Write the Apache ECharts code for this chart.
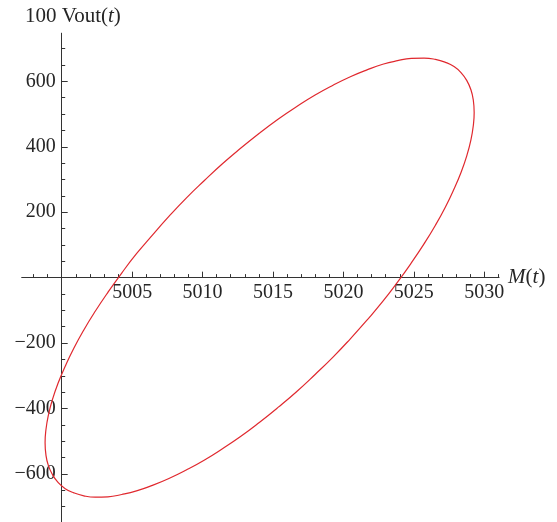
<!DOCTYPE html>
<html>
<head>
<meta charset="utf-8">
<script src="https://cdn.jsdelivr.net/npm/echarts@6/dist/echarts.min.js"></script>
<style>
html,body{margin:0;padding:0;background:#fff;}
#chart{width:557px;height:522px;}
</style>
</head>
<body>
<div id="chart"></div>
<script>
// Closed parametric curve: M(t) (x) and 100 Vout(t) (y)
const curveM = [
  5014.05, 5012.72, 5011.41, 5010.11, 5008.84, 5007.61, 5006.44, 5005.31,
  5004.26, 5003.28, 5002.38, 5001.57, 5000.86, 5000.25, 4999.74, 4999.34,
  4999.05, 4998.88, 4998.82, 4998.88, 4999.05, 4999.34, 4999.74, 5000.25,
  5000.86, 5001.57, 5002.38, 5003.28, 5004.26, 5005.31, 5006.44, 5007.61,
  5008.84, 5010.11, 5011.41, 5012.72, 5014.05, 5015.38, 5016.69, 5017.99,
  5019.26, 5020.49, 5021.67, 5022.79, 5023.84, 5024.82, 5025.72, 5026.53,
  5027.24, 5027.85, 5028.36, 5028.76, 5029.05, 5029.22, 5029.28, 5029.22,
  5029.05, 5028.76, 5028.36, 5027.85, 5027.24, 5026.53, 5025.72, 5024.82,
  5023.84, 5022.79, 5021.67, 5020.49, 5019.26, 5017.99, 5016.69, 5015.38,
  5014.05
];
const curveV = [
  442, 396, 348, 296, 243, 187, 130, 73,
  14, -45, -103, -160, -216, -271, -323, -373,
  -421, -465, -505, -542, -574, -602, -626, -645,
  -658, -667, -671, -670, -663, -652, -635, -614,
  -588, -558, -523, -485, -442, -396, -348, -296,
  -243, -187, -130, -73, -14, 45, 103, 160,
  216, 271, 323, 373, 421, 465, 505, 542,
  574, 602, 626, 645, 658, 667, 671, 670,
  663, 652, 635, 614, 588, 558, 523, 485,
  442
];
// Axis ticks
const xTickValues = [5000, 5005, 5010, 5015, 5020, 5025, 5030];
const yTickValues = [-600, -400, -200, 0, 200, 400, 600];
const xRange = [4997.16, 5031.05];
const yRange = [-747, 747];

const FONT = '"Liberation Serif", "DejaVu Serif", serif';
const TXT = '#262626';
const AX = '#333333';
const LABEL_SIZE = 20;
const NAME_SIZE = 21;

const curveData = curveM.map((m, i) => [m, curveV[i]]);
const xStep = xTickValues[1] - xTickValues[0];
const yStep = yTickValues[1] - yTickValues[0];

const hiddenAxis = (gi) => ({ type: 'value', gridIndex: gi, show: false, min: 0, max: 1,
  axisLine: { onZero: false }, splitLine: { show: false } });

const chart = echarts.init(document.getElementById('chart'), null, {renderer: 'canvas'});
chart.setOption({
  animation: false,
  backgroundColor: '#ffffff',
  title: {
    text: '100 Vout({i|t})',
    left: 25, top: 6, padding: 0,
    textStyle: {
      fontFamily: FONT, fontSize: NAME_SIZE, fontWeight: 'normal', color: TXT,
      rich: { i: { fontFamily: FONT, fontSize: NAME_SIZE, fontStyle: 'italic', color: TXT } }
    }
  },
  grid: [
    // plot area (curve, axis lines, minor ticks)
    { left: 21.7, top: 33.2, width: 477.4, height: 488.9 },
    // major x ticks + labels: bottom edge on the y = 0 line
    { left: 61.7, top: 177.65, width: 422.6, height: 100 },
    // major y ticks + labels: left edge on the M = 5000 line
    { left: 61.7, top: 81.3, width: 100, height: 392.7 }
  ],
  xAxis: [
    {
      type: 'value', gridIndex: 0, min: xRange[0], max: xRange[1],
      minInterval: xStep, maxInterval: xStep, splitNumber: 6,
      axisLine: { show: true, onZero: true, lineStyle: { color: AX, width: 1 } },
      axisTick: { show: false, inside: true },
      minorTick: { show: true, splitNumber: 5, length: 3.5, lineStyle: { color: AX, width: 1 } },
      axisLabel: { show: false },
      splitLine: { show: false },
      name: '{i|M}({i|t})', nameLocation: 'end', nameGap: 9,
      nameTextStyle: {
        fontFamily: FONT, fontSize: NAME_SIZE, color: TXT,
        rich: { i: { fontFamily: FONT, fontSize: NAME_SIZE, fontStyle: 'italic', color: TXT } }
      }
    },
    {
      type: 'value', gridIndex: 1, position: 'bottom',
      min: xTickValues[0], max: xTickValues[xTickValues.length - 1], interval: xStep,
      axisLine: { show: false, onZero: false },
      axisTick: { show: true, inside: true, length: 6, lineStyle: { color: AX, width: 1 } },
      axisLabel: {
        margin: 5, fontFamily: FONT, fontSize: LABEL_SIZE, color: TXT,
        formatter: v => (v === xTickValues[0] ? '' : String(v))
      },
      splitLine: { show: false }
    },
    hiddenAxis(2)
  ],
  yAxis: [
    {
      type: 'value', gridIndex: 0, min: yRange[0], max: yRange[1],
      minInterval: yStep, maxInterval: yStep, splitNumber: 7,
      offset: -40,
      axisLine: { show: true, onZero: true, lineStyle: { color: AX, width: 1 } },
      axisTick: { show: false, inside: true },
      minorTick: { show: true, splitNumber: 4, length: 3.5, lineStyle: { color: AX, width: 1 } },
      axisLabel: { show: false },
      splitLine: { show: false }
    },
    hiddenAxis(1),
    {
      type: 'value', gridIndex: 2, position: 'left',
      min: yTickValues[0], max: yTickValues[yTickValues.length - 1], interval: yStep,
      axisLine: { show: false, onZero: false },
      axisTick: { show: true, inside: true, length: 6, lineStyle: { color: AX, width: 1 } },
      axisLabel: {
        margin: 6, fontFamily: FONT, fontSize: LABEL_SIZE, color: TXT,
        formatter: v => (v === 0 ? '' : String(v).replace('-', '\u2212'))
      },
      splitLine: { show: false }
    }
  ],
  series: [
    {
      type: 'line', xAxisIndex: 0, yAxisIndex: 0,
      data: curveData,
      showSymbol: false, smooth: 0.5, clip: false,
      lineStyle: { color: '#e0282e', width: 1.2 },
      silent: true
    }
  ]
});
</script>
</body>
</html>
